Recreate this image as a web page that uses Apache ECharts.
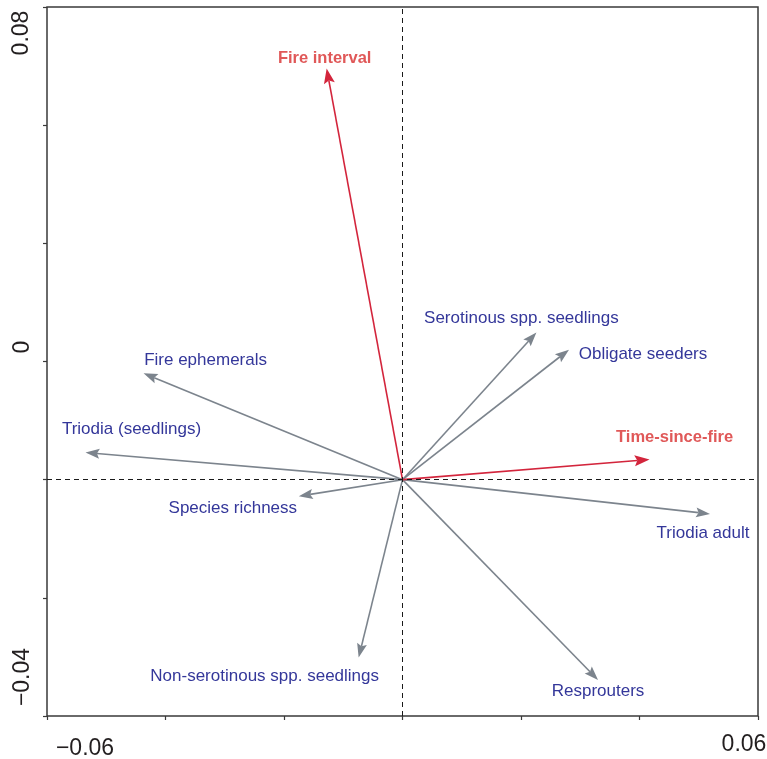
<!DOCTYPE html>
<html>
<head>
<meta charset="utf-8">
<title>Ordination biplot</title>
<script src="https://cdn.jsdelivr.net/npm/echarts@6/dist/echarts.min.js"></script>
<style>
  html, body { margin: 0; padding: 0; background: #fff; }
  #chart { width: 767px; height: 759px; }
</style>
</head>
<body>
<div id="chart"></div>
<script>
// Fire regime variables (red vectors)
const envNames = ['Fire interval', 'Time-since-fire'];
const envX = [-0.0128, 0.0417];
const envY = [0.0696, 0.0034];

// Plant response groups (grey vectors)
const spNames = [
  'Serotinous spp. seedlings', 'Obligate seeders', 'Triodia adult', 'Resprouters',
  'Non-serotinous spp. seedlings', 'Species richness', 'Triodia (seedlings)', 'Fire ephemerals'
];
const spX = [0.0226, 0.0281, 0.0519, 0.0330, -0.0074, -0.0175, -0.0535, -0.0437];
const spY = [0.0249, 0.0220, -0.0058, -0.0339, -0.0301, -0.0028, 0.0046, 0.0180];

// Axis ranges and the tick labels printed along them
const xRange = [-0.06, 0.06];
const yRange = [-0.04, 0.08];
const tickStep = 0.02;
const xTickLabels = ['\u22120.06', '0.06'];
const yTickLabels = ['0.08', '0', '\u22120.04'];

// Label placement relative to each arrow tip (pixels)
const labelOffset = {
  'Fire interval': [-2, -10],
  'Time-since-fire': [25, -22],
  'Serotinous spp. seedlings': [-15, -14],
  'Obligate seeders': [74, 5],
  'Triodia adult': [-7, 19],
  'Resprouters': [0, 11],
  'Non-serotinous spp. seedlings': [-94, 19],
  'Species richness': [-66, 12],
  'Triodia (seedlings)': [46, -23],
  'Fire ephemerals': [62, -13]
};

const FONT = '"Liberation Sans", Arial, Helvetica, sans-serif';

function arrowRenderer(names, lineColor, textColor, textFont, headLen, headW) {
  return function (params, api) {
    const o = api.coord([0, 0]);
    const p = api.coord([api.value(0), api.value(1)]);
    const dx = p[0] - o[0], dy = p[1] - o[1];
    const len = Math.sqrt(dx * dx + dy * dy);
    const ux = dx / len, uy = dy / len;
    const nx = -uy, ny = ux;
    const bx = p[0] - ux * headLen, by = p[1] - uy * headLen;
    const notch = headLen * 0.18;
    const name = names[params.dataIndex];
    const off = labelOffset[name] || [0, 0];
    return {
      type: 'group',
      children: [
        {
          type: 'line',
          shape: { x1: o[0], y1: o[1], x2: bx + ux * notch, y2: by + uy * notch },
          style: { stroke: lineColor, lineWidth: 1.6 }
        },
        {
          type: 'polygon',
          shape: {
            points: [
              [p[0], p[1]],
              [bx + nx * headW / 2, by + ny * headW / 2],
              [bx + ux * notch, by + uy * notch],
              [bx - nx * headW / 2, by - ny * headW / 2]
            ]
          },
          style: { fill: lineColor }
        },
        {
          type: 'text',
          x: p[0] + off[0],
          y: p[1] + off[1],
          style: {
            text: name,
            fill: textColor,
            font: textFont,
            align: 'center',
            verticalAlign: 'middle'
          }
        }
      ]
    };
  };
}

const chart = echarts.init(document.getElementById('chart'), null, { renderer: 'canvas' });

const tickFont = '23px ' + FONT;
const tickColor = '#231f20';
const frameColor = '#3a3a3a';

chart.setOption({
  backgroundColor: '#ffffff',
  animation: false,
  grid: {
    left: 47, right: 9, top: 7, bottom: 43,
    show: true, borderColor: frameColor, borderWidth: 1.5, backgroundColor: 'transparent'
  },
  xAxis: {
    type: 'value', position: 'bottom', min: xRange[0], max: xRange[1], interval: tickStep,
    axisLine: { show: false, onZero: false },
    axisTick: { show: true, length: 4, lineStyle: { color: frameColor, width: 1.2 } },
    axisLabel: { show: false },
    splitLine: { show: false }
  },
  yAxis: {
    type: 'value', position: 'left', min: yRange[0], max: yRange[1], interval: tickStep,
    axisLine: { show: false, onZero: false },
    axisTick: { show: true, length: 4, lineStyle: { color: frameColor, width: 1.2 } },
    axisLabel: { show: false },
    splitLine: { show: false }
  },
  graphic: [
    { type: 'text', x: 22, y: 33, rotation: Math.PI / 2,
      style: { text: yTickLabels[0], font: tickFont, fill: tickColor, align: 'center', verticalAlign: 'middle' } },
    { type: 'text', x: 23, y: 347, rotation: Math.PI / 2,
      style: { text: yTickLabels[1], font: tickFont, fill: tickColor, align: 'center', verticalAlign: 'middle' } },
    { type: 'text', x: 23, y: 677, rotation: Math.PI / 2,
      style: { text: yTickLabels[2], font: tickFont, fill: tickColor, align: 'center', verticalAlign: 'middle' } },
    { type: 'text', x: 85, y: 749,
      style: { text: xTickLabels[0], font: tickFont, fill: tickColor, align: 'center', verticalAlign: 'middle' } },
    { type: 'text', x: 744, y: 745,
      style: { text: xTickLabels[1], font: tickFont, fill: tickColor, align: 'center', verticalAlign: 'middle' } }
  ],
  series: [
    {
      type: 'custom',
      name: 'guides',
      data: [],
      renderItem: function () { return null; },
      markLine: {
        silent: true,
        symbol: 'none',
        label: { show: false },
        lineStyle: { color: '#1a1a1a', width: 1, type: [5, 4] },
        data: [{ xAxis: 0 }, { yAxis: 0 }]
      }
    },
    {
      type: 'custom',
      name: 'species',
      data: spX.map((x, i) => [x, spY[i]]),
      renderItem: arrowRenderer(spNames, '#7c848d', '#34379a', '17px ' + FONT, 14, 10),
      z: 3
    },
    {
      type: 'custom',
      name: 'fire',
      data: envX.map((x, i) => [x, envY[i]]),
      renderItem: arrowRenderer(envNames, '#d3253c', '#e05858', 'bold 16.5px ' + FONT, 15, 11),
      z: 4
    }
  ]
});
</script>
</body>
</html>
